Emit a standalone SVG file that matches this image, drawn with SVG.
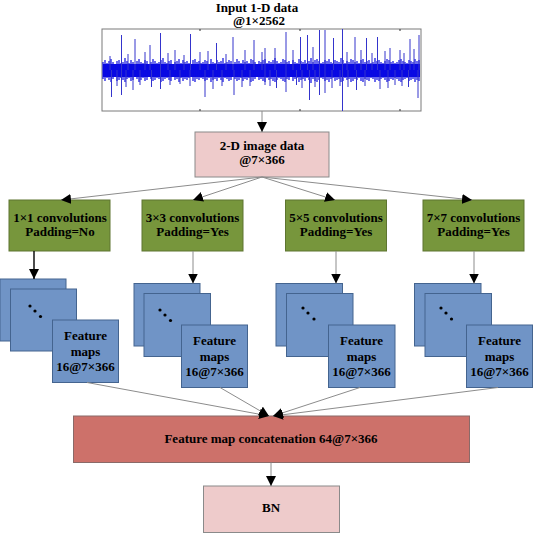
<svg xmlns="http://www.w3.org/2000/svg" width="533" height="533" viewBox="0 0 533 533">
<style>
text{font-family:"Liberation Serif","Times New Roman",serif;font-weight:bold;font-size:13px;fill:#000;text-anchor:middle}
.pink{fill:#EECBCB;stroke:#8a8a8a;stroke-width:1}
.green{fill:#77963C;stroke:#5E7530;stroke-width:1}
.blue{fill:#7094C6;stroke:#44648F;stroke-width:1}
.red{fill:#CD716A;stroke:#8a6a68;stroke-width:1}
.conn{stroke:#8c8c8c;stroke-width:1;fill:none}
.dot{fill:#000}
</style>
<defs>
<marker id="ah" markerWidth="10" markerHeight="10" refX="10" refY="5" orient="auto" markerUnits="userSpaceOnUse">
<path d="M0,0 L10,5 L0,10 z" fill="#000"/>
</marker>
</defs>

<g id="input">
<text x="257" y="11.5">Input 1-D data</text>
<text x="259" y="25">@1×2562</text>
<rect x="102" y="29" width="319" height="82" fill="#fff" stroke="#7a7a7a"/>
<path d="M200 29v2M300 29v2M400 29v2M200 111v-2M300 111v-2M400 111v-2" stroke="#333" stroke-width="1"/>
<rect x="103" y="64" width="317" height="13" fill="#0808E8"/>
<path stroke="#0A0AE0" stroke-width="1.2" d="M103 62V79M105 60V81M107 63V78M109 61V80M111 59V82M113 62V79M115 64V77M117 61V81M119 60V80M121 63V78M123 62V80M125 58V82M127 61V79M129 63V78M131 60V81M133 62V80M135 64V77M137 61V79M139 59V82M141 62V80M143 63V78M145 60V81M147 61V80M149 64V77M151 62V79M153 59V81M155 61V80M157 63V78M159 62V79M161 60V82M163 58V81M165 62V79M167 63V78M169 61V80M171 60V81M173 64V77M175 62V80M177 61V79M179 59V82M181 63V78M183 60V81M185 62V79M187 61V80M189 63V78M191 64V77M193 60V81M195 59V82M197 62V79M199 61V80M201 63V78M203 62V79M205 60V81M207 61V80M209 64V78M211 59V82M213 62V80M215 63V79M217 60V81M219 62V78M221 61V80M223 58V82M225 63V78M227 62V79M229 60V81M231 61V80M233 64V77M235 62V79M237 59V81M239 61V80M241 63V78M243 60V81M245 62V79M247 61V80M249 63V78M251 59V82M253 60V81M255 62V79M257 64V77M259 61V80M261 62V79M263 60V81M265 59V82M267 63V78M269 61V80M271 62V79M273 60V81M275 58V82M277 61V80M279 63V78M281 62V79M283 59V81M285 60V82M287 62V79M289 61V80M291 64V77M293 60V81M295 62V79M297 63V78M299 59V82M301 61V80M303 62V79M305 60V81M307 63V78M309 61V80M311 58V83M313 62V79M315 60V81M317 59V82M319 61V80M321 63V78M323 62V79M325 60V81M327 61V80M329 59V82M331 62V79M333 63V78M335 60V81M337 61V80M339 62V79M341 58V82M343 60V81M345 63V78M347 61V80M349 62V79M351 59V82M353 60V81M355 62V79M357 61V80M359 63V78M361 60V81M363 59V82M365 62V79M367 61V80M369 60V81M371 63V78M373 62V79M375 58V82M377 61V80M379 60V81M381 62V79M383 63V78M385 61V80M387 59V82M389 60V81M391 62V79M393 61V80M395 63V78M397 62V79M399 60V81M401 59V82M403 61V80M405 62V79M407 63V78M409 60V81M411 61V80M413 62V79M415 59V82M417 61V80M419 60V81"/>
<path stroke="#3434CC" stroke-width="1" d="M121.5 70V35M135 70V39M150 70V45M160.5 70V33M190.5 70V34M216.5 70V43M233 70V37M254 70V40M275 70V48M286 70V32M300.5 70V37M307.5 70V35M319.5 70V30M325 70V30M333.5 70V38M342.5 29V111M355 70V37M366.5 70V38M377.5 70V37M410 70V39M419 70V35M110 70V56M145 70V52M175 70V50M200 70V52M245 70V50M265 70V48M390 70V48M400 70V50M128 70V54M168 70V53M184 70V55M208 70V51M226 70V54M262 70V52M293 70V50M313 70V47M347 70V52M361 70V50M372 70V53M385 70V51M404 70V53M414 70V49M111.5 70V97M121.5 70V95M133 70V90M151.5 70V87M160.5 70V89M205 70V97M213 70V89M234 70V95M276.5 70V88M286 70V92M296.5 70V85M309.5 70V100M319.5 70V95M325 70V93M356.5 70V90M380 70V89M408.5 70V87M418 70V98M140 70V85M180 70V84M250 70V86M265 70V85M340 70V86M395 70V85M117 70V86M126 70V87M170 70V85M190 70V86M222 70V86M242 70V87M270 70V86M302 70V88M315 70V87M332 70V88M348 70V87M365 70V86M388 70V88M402 70V86"/>
</g>

<g id="image2d">
<rect class="pink" x="195" y="132" width="134" height="45"/>
<text x="262" y="150">2-D image data</text>
<text x="262" y="164">@7×366</text>
</g>

<g id="conv1">
<rect class="green" x="9" y="200" width="101" height="51"/>
<text x="60" y="221.5">1×1 convolutions</text>
<text x="60" y="235.5">Padding=No</text>
</g>
<g id="conv3">
<rect class="green" x="142" y="200" width="101" height="51"/>
<text x="192.5" y="221.5">3×3 convolutions</text>
<text x="192.5" y="235.5">Padding=Yes</text>
</g>
<g id="conv5">
<rect class="green" x="285.5" y="200" width="101" height="51"/>
<text x="336" y="221.5">5×5 convolutions</text>
<text x="336" y="235.5">Padding=Yes</text>
</g>
<g id="conv7">
<rect class="green" x="423" y="200" width="101" height="51"/>
<text x="473.5" y="221.5">7×7 convolutions</text>
<text x="473.5" y="235.5">Padding=Yes</text>
</g>

<g id="maps1">
<rect class="blue" x="0" y="279" width="66" height="62"/>
<rect class="blue" x="10.5" y="289" width="66" height="62"/>
<circle class="dot" cx="30" cy="306" r="1.6"/><circle class="dot" cx="35" cy="311" r="1.6"/><circle class="dot" cx="40.5" cy="316.5" r="1.6"/>
<rect class="blue" x="52.5" y="320" width="66" height="62.5"/>
<text x="85.5" y="340">Feature</text>
<text x="85.5" y="355.5">maps</text>
<text x="85.5" y="371">16@7×366</text>
</g>
<g id="maps3">
<rect class="blue" x="134" y="283.5" width="66" height="62.5"/>
<rect class="blue" x="144" y="293.5" width="66.5" height="63"/>
<circle class="dot" cx="160" cy="310" r="1.6"/><circle class="dot" cx="165" cy="315" r="1.6"/><circle class="dot" cx="170.5" cy="320.5" r="1.6"/>
<rect class="blue" x="181.5" y="325" width="66" height="62.5"/>
<text x="214.5" y="345">Feature</text>
<text x="214.5" y="360.5">maps</text>
<text x="214.5" y="376">16@7×366</text>
</g>
<g id="maps5">
<rect class="blue" x="276" y="283.5" width="66.5" height="62.5"/>
<rect class="blue" x="286.5" y="293.5" width="66.5" height="63"/>
<circle class="dot" cx="303" cy="308" r="1.6"/><circle class="dot" cx="308" cy="313" r="1.6"/><circle class="dot" cx="314" cy="319" r="1.6"/>
<rect class="blue" x="328.5" y="325" width="66.5" height="62.5"/>
<text x="361.5" y="345">Feature</text>
<text x="361.5" y="360.5">maps</text>
<text x="361.5" y="376">16@7×366</text>
</g>
<g id="maps7">
<rect class="blue" x="414.5" y="283.5" width="66.5" height="62.5"/>
<rect class="blue" x="425" y="293.5" width="66.5" height="63"/>
<circle class="dot" cx="441" cy="308" r="1.6"/><circle class="dot" cx="446" cy="313" r="1.6"/><circle class="dot" cx="451.5" cy="319" r="1.6"/>
<rect class="blue" x="466.5" y="325" width="66" height="62.5"/>
<text x="499.5" y="345">Feature</text>
<text x="499.5" y="360.5">maps</text>
<text x="499.5" y="376">16@7×366</text>
</g>

<g id="concat">
<rect class="red" x="73.5" y="416" width="396" height="46.5"/>
<text x="271" y="443">Feature map concatenation 64@7×366</text>
</g>

<g id="bn">
<rect class="pink" x="203.5" y="486" width="136" height="46.5"/>
<text x="271" y="511.5">BN</text>
</g>

<g id="connectors">
<line class="conn" x1="262" y1="111" x2="262" y2="132" marker-end="url(#ah)"/>
<line class="conn" x1="262" y1="177" x2="61" y2="200" marker-end="url(#ah)"/>
<line class="conn" x1="262" y1="177" x2="193" y2="200" marker-end="url(#ah)"/>
<line class="conn" x1="262" y1="177" x2="335" y2="200" marker-end="url(#ah)"/>
<line class="conn" x1="262" y1="177" x2="472" y2="200" marker-end="url(#ah)"/>
<line x1="34" y1="251" x2="34" y2="279" stroke="#000" stroke-width="1.4" marker-end="url(#ah)"/>
<line class="conn" x1="193" y1="251" x2="193" y2="283.5" marker-end="url(#ah)"/>
<line class="conn" x1="336" y1="251" x2="336" y2="283.5" marker-end="url(#ah)"/>
<line class="conn" x1="474" y1="251" x2="474" y2="283.5" marker-end="url(#ah)"/>
<line class="conn" x1="87" y1="382.5" x2="269" y2="416" marker-end="url(#ah)"/>
<line class="conn" x1="220" y1="387.5" x2="269" y2="416" marker-end="url(#ah)"/>
<line class="conn" x1="360" y1="387.5" x2="273" y2="416" marker-end="url(#ah)"/>
<line class="conn" x1="498" y1="387.5" x2="273" y2="416" marker-end="url(#ah)"/>
<line class="conn" x1="271" y1="462.5" x2="271" y2="486" marker-end="url(#ah)"/>
</g>
</svg>
